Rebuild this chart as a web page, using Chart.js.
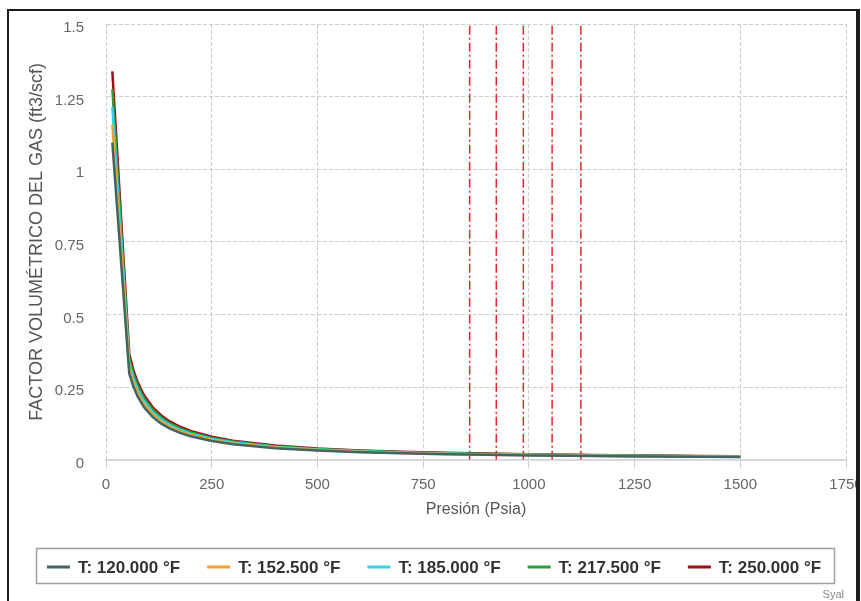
<!DOCTYPE html>
<html>
<head>
<meta charset="utf-8">
<script src="https://cdn.jsdelivr.net/npm/chart.js@4.4.0/dist/chart.umd.min.js"></script>
<style>
  html, body { margin: 0; padding: 0; background: #fff; }
  #wrap { width: 861px; height: 601px; }
</style>
</head>
<body>
<div id="wrap"><canvas id="bg-chart" width="861" height="601"></canvas></div>
<script>
// Gas formation volume factor Bg (ft3/scf) vs pressure, one curve per temperature
const pressures = [15, 55, 65, 75, 90, 110, 130, 150, 175, 200, 250, 300, 400, 500, 600, 700, 800, 900, 1000, 1100, 1200, 1300, 1400, 1500];
const temperatures = [120, 152.5, 185, 217.5, 250];
const seriesColors = ['#3f6663', '#f2a22a', '#33d1ea', '#2a9e3a', '#9c1016'];

const bg120 = [1.092, 0.2969, 0.2510, 0.2174, 0.1810, 0.1478, 0.1249, 0.1081, 0.0925, 0.0808, 0.0644, 0.0534, 0.0398, 0.0316, 0.0261, 0.0222, 0.0193, 0.0170, 0.0152, 0.0137, 0.0124, 0.0114, 0.0105, 0.0097];
const bg152 = [1.153, 0.3136, 0.2652, 0.2297, 0.1912, 0.1562, 0.1320, 0.1142, 0.0977, 0.0854, 0.0681, 0.0565, 0.0421, 0.0334, 0.0277, 0.0235, 0.0204, 0.0180, 0.0161, 0.0145, 0.0132, 0.0121, 0.0112, 0.0103];
const bg185 = [1.214, 0.3304, 0.2794, 0.2420, 0.2015, 0.1646, 0.1391, 0.1204, 0.1031, 0.0900, 0.0718, 0.0596, 0.0444, 0.0353, 0.0293, 0.0249, 0.0217, 0.0191, 0.0171, 0.0154, 0.0141, 0.0129, 0.0119, 0.0110];
const bg217 = [1.276, 0.3472, 0.2936, 0.2543, 0.2117, 0.1730, 0.1463, 0.1266, 0.1084, 0.0947, 0.0755, 0.0628, 0.0468, 0.0372, 0.0308, 0.0263, 0.0229, 0.0202, 0.0181, 0.0163, 0.0149, 0.0137, 0.0126, 0.0117];
const bg250 = [1.337, 0.3640, 0.3078, 0.2666, 0.2220, 0.1815, 0.1534, 0.1328, 0.1137, 0.0994, 0.0793, 0.0659, 0.0492, 0.0391, 0.0324, 0.0277, 0.0241, 0.0213, 0.0191, 0.0172, 0.0157, 0.0144, 0.0133, 0.0124];
const bgSeries = [bg120, bg152, bg185, bg217, bg250];

// dew point pressures marked with dash-dot verticals
const dewPressures = [860, 923, 987, 1055, 1123];

const FONT = '"Liberation Sans", Arial, sans-serif';

const datasets = temperatures.map((t, i) => ({
  label: 'T: ' + t.toFixed(3) + ' °F',
  data: pressures.map((p, j) => ({ x: p, y: bgSeries[i][j] })),
  borderColor: seriesColors[i],
  backgroundColor: seriesColors[i],
  borderWidth: 2.5,
  pointRadius: 0,
  tension: 0,
  fill: false
}));

dewPressures.forEach(p => {
  datasets.push({
    label: 'dew',
    data: [{ x: p, y: 0 }, { x: p, y: 1.5 }],
    borderColor: '#e1262e',
    borderWidth: 1.5,
    borderDash: [9, 3, 2, 3],
    pointRadius: 0,
    fill: false
  });
});

// legend box, frame and credit drawn on top
const decor = {
  id: 'decor',
  afterDraw(chart) {
    const ctx = chart.ctx;
    ctx.save();
    ctx.font = 'bold 17px ' + FONT;
    const lineW = 23, gap = 8, spacing = 27;
    const labels = temperatures.map(t => 'T: ' + t.toFixed(3) + ' °F');
    const widths = labels.map(s => lineW + gap + ctx.measureText(s).width);
    const total = widths.reduce((a, b) => a + b, 0) + spacing * (labels.length - 1);
    const cy = 567;
    let x = 434 - total / 2;

    ctx.strokeStyle = '#a0a0a0';
    ctx.lineWidth = 1.5;
    ctx.strokeRect(Math.round(x - 11) + 0.5, 548.5, Math.round(total + 24), 35);

    ctx.textBaseline = 'middle';
    ctx.textAlign = 'left';
    labels.forEach((s, i) => {
      ctx.fillStyle = seriesColors[i];
      ctx.fillRect(x, cy - 1.5, lineW, 3);
      ctx.fillStyle = '#333';
      ctx.fillText(s, x + lineW + gap, cy + 1);
      x += widths[i] + spacing;
    });

    ctx.font = '11px ' + FONT;
    ctx.fillStyle = '#8a8a8a';
    ctx.textAlign = 'right';
    ctx.fillText('Syal', 844, 595);

    // outer frame
    ctx.fillStyle = '#1c1c1c';
    ctx.fillRect(7, 9, 850, 2);
    ctx.fillRect(7, 9, 2, 592);
    ctx.fillRect(856, 9, 4, 592);
    ctx.fillStyle = '#fff';
    ctx.fillRect(860, 0, 1, 601);
    ctx.restore();
  }
};

new Chart(document.getElementById('bg-chart'), {
  type: 'line',
  data: { datasets },
  options: {
    responsive: false,
    animation: false,
    layout: { padding: { top: 24, left: 0, right: 15, bottom: 73.4 } },
    plugins: {
      legend: { display: false },
      tooltip: { enabled: false }
    },
    scales: {
      x: {
        type: 'linear',
        min: 0,
        max: 1750,
        ticks: {
          stepSize: 250,
          padding: 8,
          maxRotation: 0,
          color: '#666',
          font: { size: 15, family: FONT },
          callback: v => String(v)
        },
        grid: { color: '#cdcdcd', tickLength: 8 },
        border: { display: true, color: '#d3d9de', width: 2, dash: [4, 2] },
        title: {
          display: true,
          text: 'Presión (Psia)',
          color: '#555',
          font: { size: 16, family: FONT },
          padding: { top: -1.4, bottom: 8 }
        },
        afterFit: s => { s.paddingLeft = 0; s.paddingRight = 0; }
      },
      y: {
        min: 0,
        max: 1.5,
        ticks: {
          stepSize: 0.25,
          padding: 22,
          labelOffset: 4,
          color: '#666',
          font: { size: 15, family: FONT },
          callback: v => String(Math.round(v * 100) / 100)
        },
        grid: { color: '#cdcdcd', drawTicks: false },
        border: { display: true, color: 'rgba(0,0,0,0)', dash: [4, 2] },
        title: {
          display: true,
          text: 'FACTOR VOLUMÉTRICO DEL GAS (ft3/scf)',
          color: '#555',
          font: { size: 18, family: FONT },
          padding: { top: 26, bottom: 0 }
        },
        afterFit: s => { s.width = 106; s.paddingTop = 0; s.paddingBottom = 0; }
      }
    }
  },
  plugins: [decor]
});
</script>
</body>
</html>
